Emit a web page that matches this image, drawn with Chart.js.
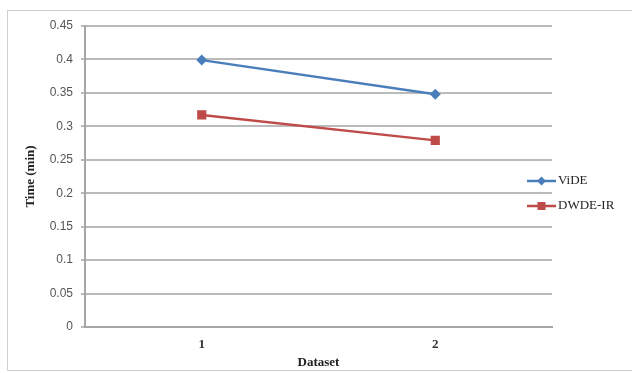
<!DOCTYPE html>
<html>
<head>
<meta charset="utf-8">
<script src="https://cdn.jsdelivr.net/npm/chart.js@4.4.1/dist/chart.umd.min.js"></script>
<style>
  html, body { margin: 0; padding: 0; background: #fff; }
  #wrap { position: relative; width: 632px; height: 373px; }
</style>
</head>
<body>
<div id="wrap"><canvas id="timeChart" width="632" height="373"></canvas></div>
<script>
// dataset labels and timing (minutes)
const datasets = ['1', '2'];
const videTimes = [0.399, 0.348];
const dwdeTimes = [0.317, 0.279];
const seriesNames = ['ViDE', 'DWDE-IR'];
const seriesColors = ['#4a7ebb', '#be4b48'];
const markerStyles = ['rectRot', 'rect'];

const serif = '"Liberation Serif", "Times New Roman", serif';
const sans = '"Liberation Sans", Arial, sans-serif';

// outer frame round the whole chart
const framePlugin = {
    id: 'frame',
    beforeDraw(chart) {
        const ctx = chart.ctx;
        ctx.save();
        ctx.strokeStyle = '#d0d0d0';
        ctx.lineWidth = 1;
        ctx.strokeRect(7.5, 10.5, 640, 360);
        ctx.restore();
    }
};

// legend on the right: short line with the marker in its middle
const lineLegend = {
    id: 'lineLegend',
    afterDraw(chart) {
        const ctx = chart.ctx;
        ctx.save();
        chart.data.datasets.forEach((ds, i) => {
            const y = 181 + i * 25;
            const x0 = 527, x1 = 556;
            ctx.strokeStyle = ds.borderColor;
            ctx.lineWidth = 2.5;
            ctx.beginPath();
            ctx.moveTo(x0, y);
            ctx.lineTo(x1, y);
            ctx.stroke();
            ctx.fillStyle = ds.backgroundColor;
            const cx = (x0 + x1) / 2;
            if (ds.pointStyle === 'rectRot') {
                ctx.beginPath();
                ctx.moveTo(cx, y - 4.5); ctx.lineTo(cx + 4.5, y);
                ctx.lineTo(cx, y + 4.5); ctx.lineTo(cx - 4.5, y);
                ctx.closePath();
                ctx.fill();
            } else {
                ctx.fillRect(cx - 4, y - 4, 8, 8);
            }
            ctx.fillStyle = '#222';
            ctx.font = '13px ' + serif;
            ctx.textBaseline = 'middle';
            ctx.fillText(ds.label, x1 + 2, y);
        });
        ctx.restore();
    }
};

new Chart(document.getElementById('timeChart'), {
    type: 'line',
    data: {
        labels: datasets,
        datasets: [videTimes, dwdeTimes].map((vals, i) => ({
            label: seriesNames[i],
            data: vals,
            borderColor: seriesColors[i],
            backgroundColor: seriesColors[i],
            borderWidth: 2.5,
            pointStyle: markerStyles[i],
            pointRadius: i === 0 ? 5.5 : 6.5,
            pointBorderWidth: 0,
            tension: 0
        }))
    },
    options: {
        responsive: false,
        animation: false,
        layout: { padding: { left: 0, right: 80, top: 26, bottom: 0 } },
        plugins: {
            legend: { display: false },
            tooltip: { enabled: false }
        },
        scales: {
            x: {
                offset: true,
                grid: { display: false },
                border: { display: true, color: '#a6a6a6', width: 2 },
                ticks: { color: '#333', font: { family: serif, size: 13, weight: 'bold' }, padding: 2 },
                title: { display: true, text: 'Dataset', color: '#222', font: { family: serif, size: 13, weight: 'bold' }, padding: { top: 0, bottom: 3 } },
                afterFit(scale) { scale.height = 46; }
            },
            y: {
                min: 0,
                max: 0.45,
                ticks: {
                    stepSize: 0.05,
                    color: '#555',
                    padding: 8,
                    font: { family: sans, size: 12 },
                    callback: v => String(parseFloat(v.toFixed(2)))
                },
                grid: { color: '#bababa', lineWidth: 2, tickLength: 4 },
                border: { color: '#a6a6a6', width: 2 },
                title: { display: true, text: 'Time (min)', color: '#222', font: { family: serif, size: 13, weight: 'bold' }, padding: { top: 23, bottom: 0 } },
                afterFit(scale) { scale.width = 85; }
            }
        }
    },
    plugins: [framePlugin, lineLegend]
});
</script>
</body>
</html>
